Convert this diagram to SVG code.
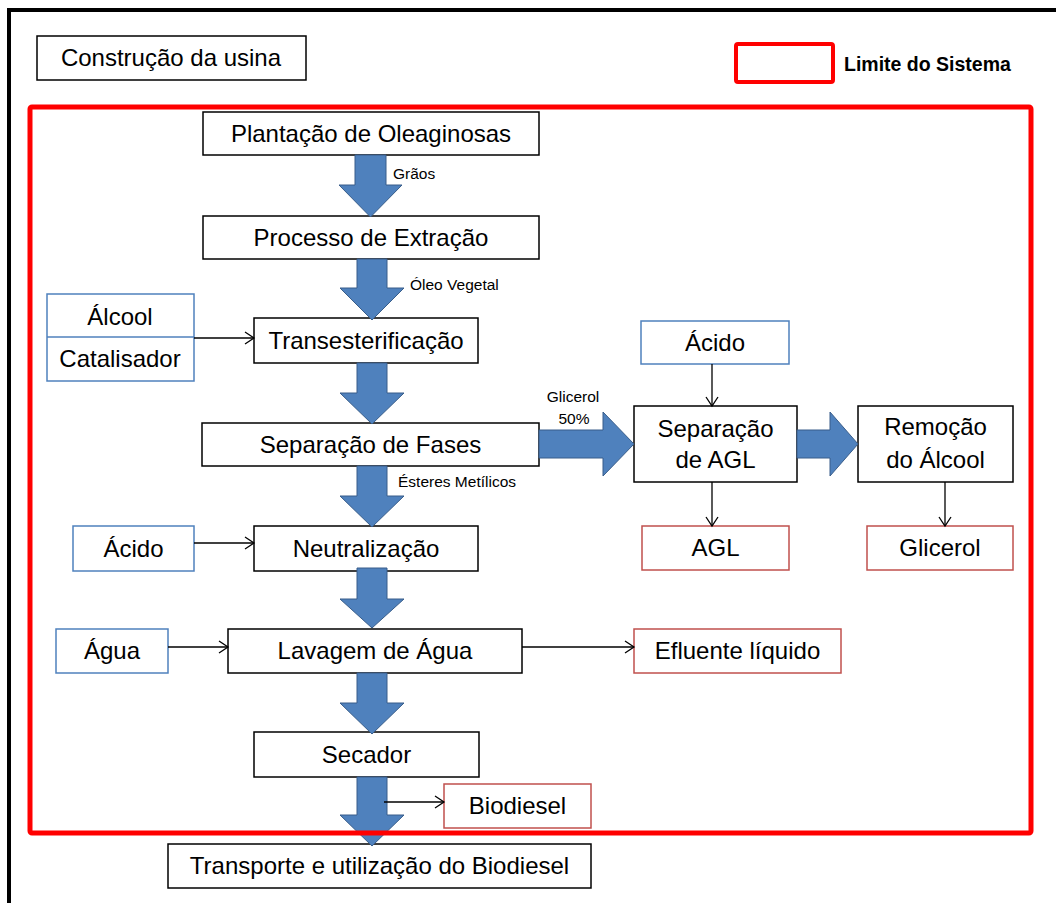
<svg xmlns="http://www.w3.org/2000/svg" width="1056" height="903" viewBox="0 0 1056 903">
<defs>
<style>
text{font-family:"Liberation Sans",Arial,sans-serif;fill:#000;text-anchor:middle}
.t{font-size:24px}
.s{font-size:15.5px;text-anchor:start}
.sc{font-size:15.5px}
.b{fill:#fff;stroke:#000;stroke-width:1.5}
.bl{fill:#fff;stroke:#4f81bd;stroke-width:1.5}
.rd{fill:#fff;stroke:#c0504d;stroke-width:1.5}
.ar{fill:#4f81bd;stroke:#385d8a;stroke-width:1}
.ln{fill:none;stroke:#000;stroke-width:1.3;marker-end:url(#chev)}
</style>
<marker id="chev" markerUnits="userSpaceOnUse" markerWidth="12" markerHeight="14" refX="10" refY="7" orient="auto">
<path d="M1,1 L10,7 L1,13" fill="none" stroke="#000" stroke-width="1.3"/>
</marker>
</defs>
<rect width="1056" height="903" fill="#fff"/>
<rect x="9" y="10" width="1100" height="1000" fill="none" stroke="#000" stroke-width="4"/>

<g id="construcao"><rect class="b" x="37" y="36" width="269" height="44"/><text class="t" x="171" y="66">Construção da usina</text></g>
<g id="legenda"><rect x="736" y="44" width="97" height="38" rx="2" fill="#fff" stroke="#ff0000" stroke-width="4"/><text x="844" y="71" style="font-size:19.5px;font-weight:bold;text-anchor:start">Limite do Sistema</text></g>

<g id="plantacao"><rect class="b" x="203" y="112" width="336" height="43"/><text class="t" x="371" y="142">Plantação de Oleaginosas</text></g>
<g id="extracao"><rect class="b" x="203" y="216" width="336" height="43"/><text class="t" x="371" y="246">Processo de Extração</text></g>
<g id="alcool-catalisador"><rect class="bl" x="47" y="294" width="147" height="87"/><line x1="47" y1="337" x2="194" y2="337" stroke="#4f81bd" stroke-width="1.5"/><text class="t" x="120" y="325">Álcool</text><text class="t" x="120" y="367">Catalisador</text></g>
<g id="transesterificacao"><rect class="b" x="254" y="318" width="224" height="45"/><text class="t" x="366" y="349">Transesterificação</text></g>
<g id="separacao-fases"><rect class="b" x="202" y="423" width="337" height="43"/><text class="t" x="370.5" y="453">Separação de Fases</text></g>
<g id="acido-agl"><rect class="bl" x="641" y="321" width="148" height="43"/><text class="t" x="715" y="351">Ácido</text></g>
<g id="separacao-agl"><rect class="b" x="634" y="406" width="163" height="76"/><text class="t" x="715.5" y="437">Separação</text><text class="t" x="715.5" y="468">de AGL</text></g>
<g id="remocao-alcool"><rect class="b" x="858" y="406" width="155" height="76"/><text class="t" x="935.5" y="435">Remoção</text><text class="t" x="935.5" y="468">do Álcool</text></g>
<g id="agl"><rect class="rd" x="642" y="526" width="147" height="44"/><text class="t" x="715.5" y="556">AGL</text></g>
<g id="glicerol"><rect class="rd" x="867" y="526" width="146" height="44"/><text class="t" x="940" y="556">Glicerol</text></g>
<g id="acido-neutro"><rect class="bl" x="73" y="526" width="121" height="45"/><text class="t" x="133.5" y="557">Ácido</text></g>
<g id="neutralizacao"><rect class="b" x="254" y="526" width="224" height="45"/><text class="t" x="366" y="557">Neutralização</text></g>
<g id="agua"><rect class="bl" x="56" y="629" width="112" height="44"/><text class="t" x="112" y="659">Água</text></g>
<g id="lavagem"><rect class="b" x="228" y="629" width="294" height="44"/><text class="t" x="375" y="659">Lavagem de Água</text></g>
<g id="efluente"><rect class="rd" x="634" y="629" width="207" height="44"/><text class="t" x="737.5" y="659">Efluente líquido</text></g>
<g id="secador"><rect class="b" x="254" y="732" width="225" height="45"/><text class="t" x="366.5" y="763">Secador</text></g>
<g id="biodiesel"><rect class="rd" x="444" y="784" width="147" height="44"/><text class="t" x="517.5" y="814">Biodiesel</text></g>
<g id="transporte"><rect class="b" x="168" y="844" width="423" height="44"/><text class="t" x="379.5" y="874">Transporte e utilização do Biodiesel</text></g>

<g id="connectors">
<path class="ar" d="M355,155 H386 V185 H402 L370.5,217 L339,185 H355 Z"/>
<path class="ar" d="M357,259 H387 V288 H404 L372,320 L340,288 H357 Z"/>
<path class="ar" d="M357,363 H387 V393 H404 L372,424 L340,393 H357 Z"/>
<path class="ar" d="M357,466 H387 V496 H404 L372,527 L340,496 H357 Z"/>
<path class="ar" d="M357,568 H387 V599 H404 L372,628 L340,599 H357 Z"/>
<path class="ar" d="M357,673 H387 V703 H404 L372,734 L340,703 H357 Z"/>
<path class="ar" d="M357,777 H387 V815 H404 L372,846 L340,815 H357 Z"/>
<path class="ar" d="M539,430 H603 V412 L634,444 L603,476 V458 H539 Z"/>
<path class="ar" d="M797,430 H830 V412 L858,444 L830,476 V458 H797 Z"/>
<line class="ln" x1="194" y1="338" x2="254" y2="338"/>
<line class="ln" x1="194" y1="543" x2="254" y2="543"/>
<line class="ln" x1="168" y1="647" x2="228" y2="647"/>
<line class="ln" x1="522" y1="647" x2="634" y2="647"/>
<line class="ln" x1="712" y1="364" x2="712" y2="406"/>
<line class="ln" x1="712" y1="482" x2="712" y2="526"/>
<line class="ln" x1="945" y1="482" x2="945" y2="526"/>
<line class="ln" x1="384" y1="802" x2="444" y2="802"/>
<text class="s" x="393" y="179">Grãos</text>
<text class="s" x="410" y="290">Óleo Vegetal</text>
<text class="s" x="398" y="487">Ésteres Metílicos</text>
<text class="sc" x="573" y="402">Glicerol</text>
<text class="sc" x="574" y="424">50%</text>
</g>

<rect x="30" y="107" width="1001" height="726" rx="2" fill="none" stroke="#ff0000" stroke-width="5"/>
</svg>
